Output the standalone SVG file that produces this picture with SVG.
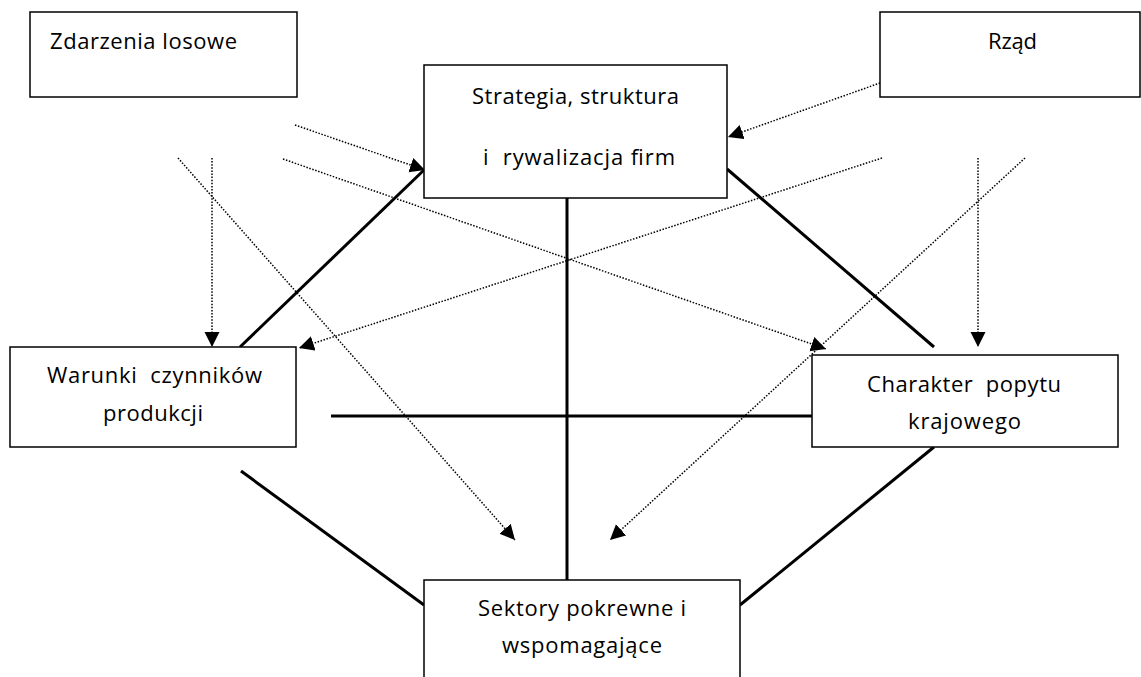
<svg xmlns="http://www.w3.org/2000/svg" width="1141" height="677" viewBox="0 0 1141 677">
<style>
.box{fill:#fff;stroke:#000;stroke-width:1.5}
.t{font-family:"Open Sans","Noto Sans","Liberation Sans",sans-serif;font-size:22px;fill:#000;white-space:pre}
.solid{stroke:#000;stroke-width:3;fill:none}
.dot{stroke:#000;stroke-width:1.5;stroke-dasharray:1.5 1.6;fill:none;marker-end:url(#arr)}
</style>
<defs>
<marker id="arr" markerUnits="userSpaceOnUse" markerWidth="16" markerHeight="16" refX="15" refY="7.5" orient="auto" viewBox="0 0 16 16">
<path d="M0,0 L15,7.5 L0,15 z" fill="#000"/>
</marker>
</defs>
<rect width="1141" height="677" fill="#fff"/>
<g id="connectors">
<line class="solid" x1="240" y1="347" x2="424" y2="170"/>
<line class="solid" x1="727" y1="169" x2="934" y2="347"/>
<line class="solid" x1="567" y1="198" x2="567" y2="580"/>
<line class="solid" x1="331" y1="416" x2="812" y2="416"/>
<line class="solid" x1="241" y1="471" x2="424" y2="605"/>
<line class="solid" x1="934" y1="447" x2="740" y2="605"/>
<line class="dot" x1="295" y1="125" x2="425" y2="170"/>
<line class="dot" x1="283" y1="159" x2="826" y2="349"/>
<line class="dot" x1="212" y1="158" x2="212" y2="347"/>
<line class="dot" x1="178" y1="158" x2="515" y2="540"/>
<line class="dot" x1="880" y1="83" x2="728" y2="137"/>
<line class="dot" x1="882" y1="158" x2="299" y2="348"/>
<line class="dot" x1="978" y1="158" x2="978" y2="347"/>
<line class="dot" x1="1025" y1="158" x2="610" y2="540"/>
</g>
<g id="zdarzenia">
<rect class="box" x="30" y="12" width="267" height="85"/>
<text class="t" x="50" y="49" textLength="187">Zdarzenia losowe</text>
</g>
<g id="rzad">
<rect class="box" x="880" y="12" width="260" height="85"/>
<text class="t" x="988" y="49" textLength="49">Rząd</text>
</g>
<g id="strategia">
<rect class="box" x="424" y="65" width="303" height="133"/>
<text class="t" x="472" y="104" textLength="207">Strategia, struktura</text>
<text class="t" x="483" y="165" textLength="192">i  rywalizacja firm</text>
</g>
<g id="warunki">
<rect class="box" x="10" y="347" width="286" height="100"/>
<text class="t" x="47" y="383" textLength="215">Warunki  czynników</text>
<text class="t" x="103" y="421" textLength="100">produkcji</text>
</g>
<g id="charakter">
<rect class="box" x="812" y="355" width="306" height="92"/>
<text class="t" x="867" y="392" textLength="194">Charakter  popytu</text>
<text class="t" x="908" y="429" textLength="113">krajowego</text>
</g>
<g id="sektory">
<rect class="box" x="424" y="580" width="316" height="110"/>
<text class="t" x="478" y="616" textLength="208">Sektory pokrewne i</text>
<text class="t" x="502" y="653" textLength="160">wspomagające</text>
</g>
</svg>
